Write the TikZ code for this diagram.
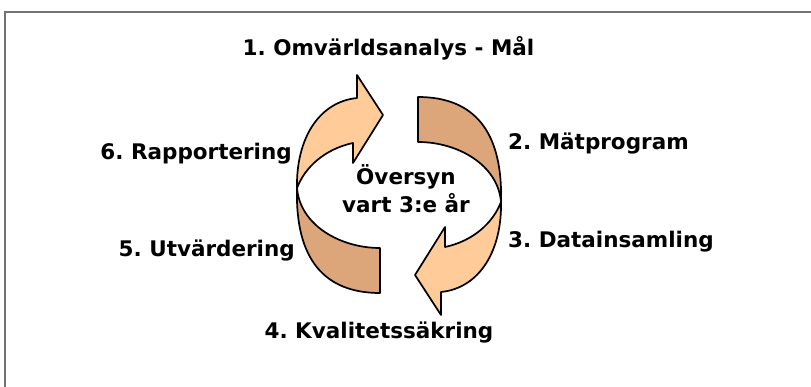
\documentclass[tikz,border=0pt]{standalone}
\usepackage{fontspec}
\setmainfont{DejaVu Sans}
\frenchspacing
\definecolor{peach}{RGB}{255,204,153}
\definecolor{peachdark}{RGB}{220,166,122}
\tikzstyle{stagetext} = [
    font=\bfseries\fontsize{21.5}{28}\selectfont,
    inner sep=0pt
]
\tikzstyle{bandlight} = [
    fill=peach,
    draw=black,
    line width=1.7pt,
    line join=round
]
\tikzstyle{banddark} = [
    fill=peachdark,
    draw=black,
    line width=1.7pt,
    line join=round
]
\tikzstyle{frameline} = [draw=black!55, line width=1.3pt]
\newcommand{\cyclearrow}{
  \draw[banddark] (-20,98) .. controls (-75,98) and (-105,65) .. (-103,-7)
      .. controls (-100,30) and (-60,53) .. (-20,53) -- cycle;
  \draw[bandlight] (-103,-7) .. controls (-104,-55) and (-82,-93) .. (-43,-97)
      -- (-43,-120) -- (-17,-80) -- (-47,-32) -- (-47,-52)
      .. controls (-75,-46) and (-95,-28) .. (-103,-7) -- cycle;
}
\begin{document}
\begin{tikzpicture}[x=1pt, y=-1pt]
\useasboundingbox (0,0) rectangle (811,387);

\draw [frameline] (5,387) |- (811,12);

\begin{scope}[shift={(400,195)}]
\cyclearrow
\end{scope}
\begin{scope}[shift={(398,195)}, rotate=180]
\cyclearrow
\end{scope}

\node (omv) [stagetext, anchor=base] at (388.5,56) {1. Omvärldsanalys - Mål};
\node (matp) [stagetext, anchor=base west] at (508,150) {2. Mätprogram};
\node (data) [stagetext, anchor=base west] at (508,248) {3. Datainsamling};
\node (kval) [stagetext, anchor=base] at (379,338) {4. Kvalitetssäkring};
\node (utv) [stagetext, anchor=base east] at (295,257) {5. Utvärdering};
\node (rapp) [stagetext, anchor=base east] at (292,160) {6. Rapportering};
\node (oversyn) [stagetext, align=center] at (406,189) {Översyn\\vart 3:e år};

\end{tikzpicture}
\end{document}
